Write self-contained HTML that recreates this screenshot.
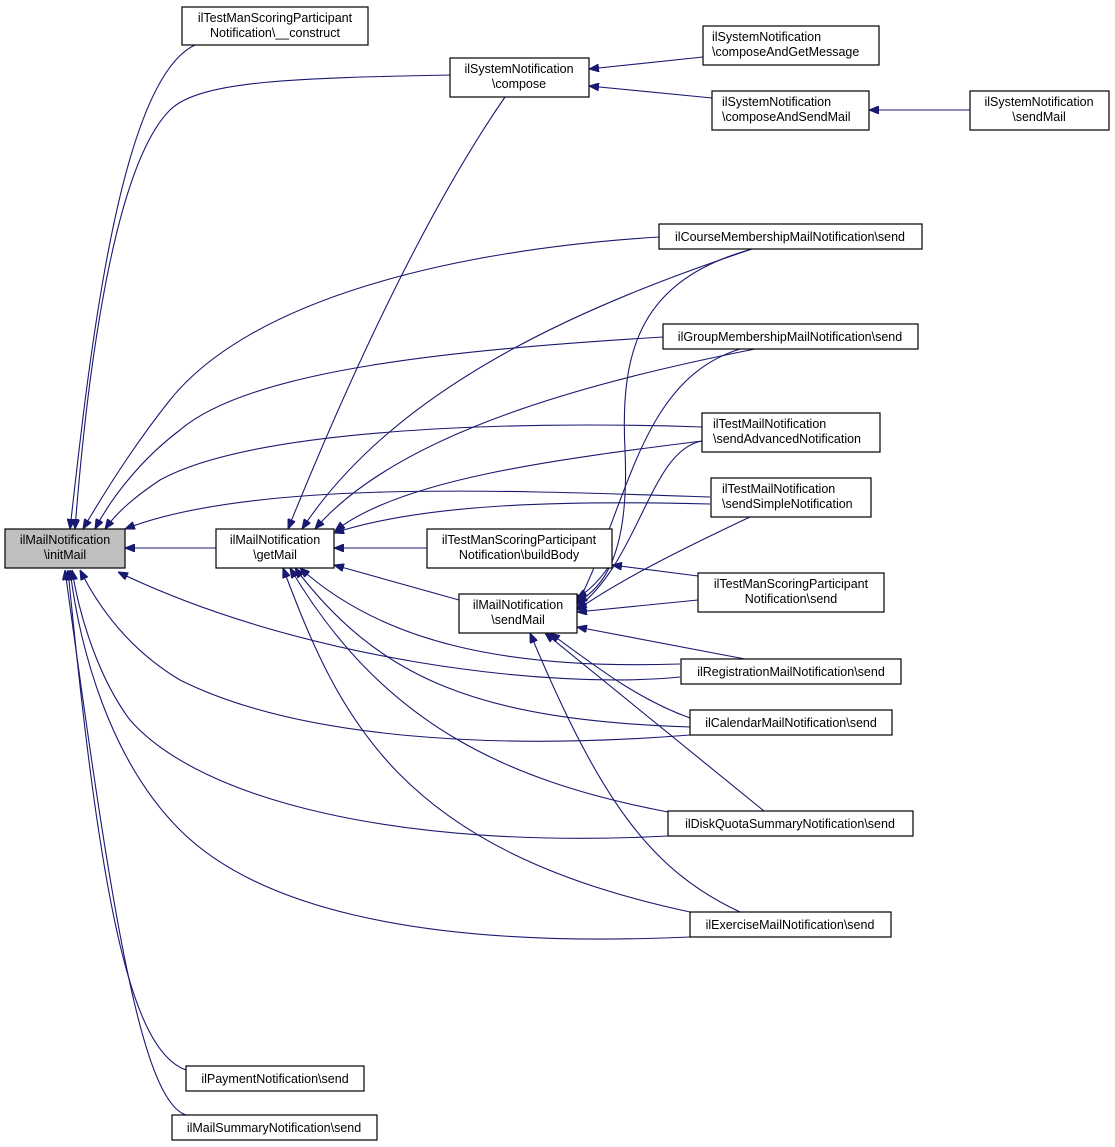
<!DOCTYPE html>
<html><head><meta charset="utf-8"><style>
html,body{margin:0;padding:0;background:#fff;}
svg{display:block;}
text{font-family:"Liberation Sans",Helvetica,sans-serif;font-size:12.5px;fill:#000;}
.b{fill:#fff;stroke:#000;stroke-width:1.2;}
.e{fill:none;stroke:#191970;stroke-width:1.1;}
</style></head><body>
<svg width="1115" height="1147" viewBox="0 0 1115 1147" xmlns="http://www.w3.org/2000/svg">
<defs><marker id="a" viewBox="0 0 10 8" refX="10" refY="4" markerWidth="10" markerHeight="8" markerUnits="userSpaceOnUse" orient="auto-start-reverse"><path d="M0,0 L10,4 L0,8 z" fill="#191970" stroke="#191970"/></marker></defs>
<g class="e" marker-end="url(#a)">
<path d="M216,548 L125,548"/>
<path d="M195,45 C120,80 90,350 70,529"/>
<path d="M450,75 C300,78 200,80 170,110 C110,170 85,400 75,529"/>
<path d="M659,237 C450,250 250,300 170,400 C130,450 100,500 83,529"/>
<path d="M663,337 C450,350 250,370 180,430 C140,460 110,500 95,529"/>
<path d="M702,427 C500,420 250,430 160,480 C130,500 115,515 105,529"/>
<path d="M710,497 C500,490 250,480 125,529"/>
<path d="M680,677 C550,690 300,660 118,572"/>
<path d="M690,735 C500,750 300,740 180,680 C130,650 100,610 80,570"/>
<path d="M668,836 C400,850 200,800 130,720 C100,680 80,620 72,570"/>
<path d="M690,937 C400,950 250,900 180,830 C110,760 80,650 70,570"/>
<path d="M186,1070 C130,1050 100,900 68,570"/>
<path d="M186,1115 C140,1100 110,900 65,570"/>
<path d="M505,97 C420,220 340,400 288,529"/>
<path d="M752,249 C600,300 400,380 302,529"/>
<path d="M755,349 C600,380 400,430 315,529"/>
<path d="M702,441 C550,460 400,480 335,531"/>
<path d="M710,504 C550,500 420,505 334,533"/>
<path d="M427,548 L334,548"/>
<path d="M459,600 L334,565"/>
<path d="M680,664 C500,670 380,640 300,568"/>
<path d="M690,727 C480,720 380,680 295,568"/>
<path d="M668,812 C500,780 380,720 290,568"/>
<path d="M690,912 C400,850 340,720 283,568"/>
<path d="M612,562 C600,580 590,590 577,598"/>
<path d="M752,249 C640,280 620,350 625,450 C630,560 600,590 577,602"/>
<path d="M740,349 C640,380 630,500 577,605"/>
<path d="M702,441 C650,450 640,560 577,608"/>
<path d="M750,517 C680,550 620,580 577,610"/>
<path d="M698,600 L577,612"/>
<path d="M745,659 L577,627"/>
<path d="M690,718 C640,700 600,670 550,633"/>
<path d="M764,811 L545,633"/>
<path d="M740,912 C650,870 600,800 530,633"/>
<path d="M698,576 L612,565"/>
<path d="M703,57 L589,69"/>
<path d="M712,98 L589,86"/>
<path d="M970,110 L869,110"/>
</g>
<rect x="5" y="529" width="120" height="39" fill="#bfbfbf" stroke="#000" stroke-width="1.2"/>
<text x="65" y="544" text-anchor="middle">ilMailNotification</text><text x="65" y="559" text-anchor="middle">\initMail</text>
<rect class="b" x="216" y="529" width="118" height="39"/>
<text x="275" y="544" text-anchor="middle">ilMailNotification</text><text x="275" y="559" text-anchor="middle">\getMail</text>
<rect class="b" x="182" y="7" width="186" height="38"/>
<text x="275" y="22" text-anchor="middle">ilTestManScoringParticipant</text><text x="275" y="37" text-anchor="middle">Notification\__construct</text>
<rect class="b" x="450" y="58" width="139" height="39"/>
<text x="519" y="73" text-anchor="middle">ilSystemNotification</text><text x="519" y="88" text-anchor="middle">\compose</text>
<rect class="b" x="703" y="26" width="176" height="39"/>
<text x="712" y="41">ilSystemNotification</text><text x="712" y="56">\composeAndGetMessage</text>
<rect class="b" x="712" y="91" width="157" height="39"/>
<text x="722" y="106">ilSystemNotification</text><text x="722" y="121">\composeAndSendMail</text>
<rect class="b" x="970" y="91" width="139" height="39"/>
<text x="1039" y="106" text-anchor="middle">ilSystemNotification</text><text x="1039" y="121" text-anchor="middle">\sendMail</text>
<rect class="b" x="659" y="224" width="263" height="25"/>
<text x="790" y="241" text-anchor="middle">ilCourseMembershipMailNotification\send</text>
<rect class="b" x="663" y="324" width="255" height="25"/>
<text x="790" y="341" text-anchor="middle">ilGroupMembershipMailNotification\send</text>
<rect class="b" x="702" y="413" width="178" height="39"/>
<text x="713" y="428">ilTestMailNotification</text><text x="713" y="443">\sendAdvancedNotification</text>
<rect class="b" x="711" y="478" width="160" height="39"/>
<text x="722" y="493">ilTestMailNotification</text><text x="722" y="508">\sendSimpleNotification</text>
<rect class="b" x="427" y="529" width="185" height="39"/>
<text x="519" y="544" text-anchor="middle">ilTestManScoringParticipant</text><text x="519" y="559" text-anchor="middle">Notification\buildBody</text>
<rect class="b" x="698" y="573" width="186" height="39"/>
<text x="791" y="588" text-anchor="middle">ilTestManScoringParticipant</text><text x="791" y="603" text-anchor="middle">Notification\send</text>
<rect class="b" x="459" y="594" width="118" height="39"/>
<text x="518" y="609" text-anchor="middle">ilMailNotification</text><text x="518" y="624" text-anchor="middle">\sendMail</text>
<rect class="b" x="681" y="659" width="220" height="25"/>
<text x="791" y="676" text-anchor="middle">ilRegistrationMailNotification\send</text>
<rect class="b" x="690" y="710" width="202" height="25"/>
<text x="791" y="727" text-anchor="middle">ilCalendarMailNotification\send</text>
<rect class="b" x="668" y="811" width="245" height="25"/>
<text x="790" y="828" text-anchor="middle">ilDiskQuotaSummaryNotification\send</text>
<rect class="b" x="690" y="912" width="201" height="25"/>
<text x="790" y="929" text-anchor="middle">ilExerciseMailNotification\send</text>
<rect class="b" x="186" y="1066" width="178" height="25"/>
<text x="275" y="1083" text-anchor="middle">ilPaymentNotification\send</text>
<rect class="b" x="172" y="1115" width="205" height="25"/>
<text x="274" y="1132" text-anchor="middle">ilMailSummaryNotification\send</text>
</svg>
</body></html>
